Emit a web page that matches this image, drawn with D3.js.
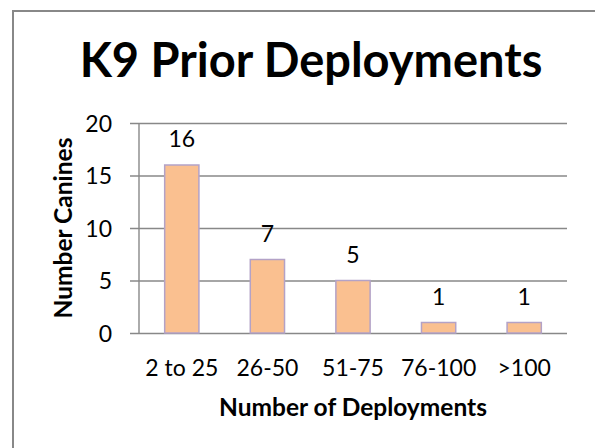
<!DOCTYPE html>
<html>
<head>
<meta charset="utf-8">
<script src="https://d3js.org/d3.v7.min.js"></script>
<style>
  body { margin: 0; background: #fff; }
  text { font-family: Lato, "Open Sans", sans-serif; fill: #000; }
</style>
</head>
<body>
<div id="chart"></div>
<script>
// chart data
const categories = ["2 to 25", "26-50", "51-75", "76-100", ">100"];
const canines = [16, 7, 5, 1, 1];
const yTicks = [0, 5, 10, 15, 20];

const W = 595, H = 448;
const plot = {left: 139, right: 567, top: 123, bottom: 333};

const svg = d3.select("#chart")
    .append("svg")
    .attr("width", W)
    .attr("height", H);

// outer frame (runs off the right and bottom edge)
svg.append("rect")
    .attr("x", 13)
    .attr("y", 11)
    .attr("width", W + 20)
    .attr("height", H + 20)
    .style("fill", "none")
    .style("stroke", "#888888")
    .style("stroke-width", 2);

var x = d3.scaleBand()
    .domain(categories)
    .range([plot.left, plot.right])
    .paddingInner(0.6)
    .paddingOuter(0.3);

var y = d3.scaleLinear()
    .domain([0, 20])
    .range([plot.bottom, plot.top]);

// gridlines + y axis
var y_axis = d3.axisLeft(y)
    .tickValues(yTicks)
    .tickSize(-(plot.right - plot.left))
    .tickSizeOuter(0)
    .tickPadding(0);

var gy = svg.append("g")
    .attr("transform", `translate(${plot.left},0)`)
    .call(y_axis);

gy.select(".domain").remove();
gy.selectAll(".tick line")
    .attr("x1", -9)
    .style("stroke", "#888888")
    .style("stroke-width", 1.4);
gy.selectAll(".tick text")
    .attr("x", -27)
    .attr("dy", "0.35em")
    .style("font-size", "23px")
    .style("font-family", "Lato, sans-serif");

// vertical axis line
svg.append("line")
    .attr("x1", plot.left).attr("x2", plot.left)
    .attr("y1", y(20)).attr("y2", y(0))
    .style("stroke", "#888888")
    .style("stroke-width", 1.4);

// bars
svg.selectAll(".bar")
    .data(canines)
    .enter().append("rect")
    .attr("class", "bar")
    .attr("x", function(d, i){ return x(categories[i]); })
    .attr("y", function(d){ return y(d); })
    .attr("width", x.bandwidth())
    .attr("height", function(d){ return y(0) - y(d); })
    .style("fill", "#FAC090")
    .style("stroke", "#B3A2C7")
    .style("stroke-width", 1.5);

// value labels
svg.selectAll(".val")
    .data(canines)
    .enter().append("text")
    .attr("class", "val")
    .attr("x", function(d, i){ return x(categories[i]) + x.bandwidth() / 2; })
    .attr("y", function(d){ return y(d) - 18; })
    .attr("text-anchor", "middle")
    .style("font-size", "23px")
    .text(function(d){ return d; });

// x axis labels
var x_axis = d3.axisBottom(x).tickSize(0).tickPadding(0);
var gx = svg.append("g")
    .attr("transform", `translate(0,${plot.bottom})`)
    .call(x_axis);
gx.select(".domain").remove();
gx.selectAll(".tick text")
    .attr("y", 43)
    .attr("dy", 0)
    .style("font-size", "23px")
    .style("font-family", "Lato, sans-serif");

// titles
svg.append("text")
    .attr("x", 311)
    .attr("y", 77)
    .attr("text-anchor", "middle")
    .style("font-size", "47px")
    .style("font-weight", "bold")
    .text("K9 Prior Deployments");

svg.append("text")
    .attr("x", (plot.left + plot.right) / 2)
    .attr("y", 416)
    .attr("text-anchor", "middle")
    .style("font-size", "24.5px")
    .style("font-weight", "bold")
    .text("Number of Deployments");

svg.append("text")
    .attr("transform", `translate(72,${(plot.top + plot.bottom) / 2}) rotate(-90)`)
    .attr("text-anchor", "middle")
    .style("font-size", "24.5px")
    .style("font-weight", "bold")
    .text("Number Canines");
</script>
</body>
</html>
